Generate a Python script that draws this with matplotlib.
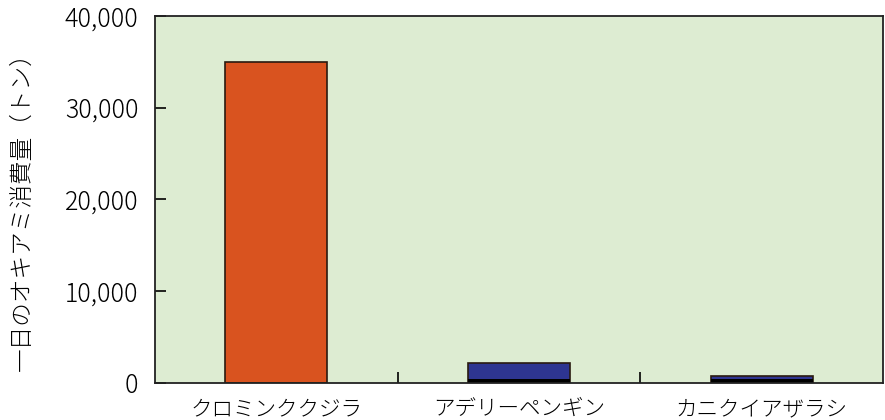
import matplotlib.pyplot as plt
from matplotlib.ticker import FuncFormatter

plt.rcParams['font.family'] = ['Noto Sans CJK JP', 'DejaVu Sans']

species = ['クロミンククジラ', 'アデリーペンギン', 'カニクイアザラシ']
krill_per_day = [35000, 2200, 750]
bar_colors = ['#d9531f', '#2e3591', '#2e3591']

fig = plt.figure(figsize=(8.85, 4.2), dpi=100)
ax = fig.add_axes([155 / 885, 37 / 420, 728 / 885, 367 / 420])
ax.set_facecolor('#ddecd2')

x = list(range(len(species)))
ax.bar(x, krill_per_day, width=0.42, color=bar_colors, edgecolor='#2a1a10', linewidth=1.2)
# dark strip along the bottom of the small bars
ax.bar(x[1:], [450, 450], width=0.42, color='black', linewidth=0)

ax.set_xlim(-0.5, 2.5)
ax.set_ylim(0, 40000)
ax.set_yticks([0, 10000, 20000, 30000, 40000])
ax.yaxis.set_major_formatter(FuncFormatter(lambda v, p: f'{int(v):,}'))
ax.set_xticks([0.5, 1.5])
ax.set_xticklabels([])
ax.set_xticks(x, minor=True)
ax.set_xticklabels(species, minor=True, fontsize=15.5, fontweight='light')
ax.tick_params(axis='x', which='minor', length=0, pad=11)
ax.tick_params(axis='x', which='major', direction='in', length=8, width=1.2)
ax.tick_params(axis='y', direction='in', length=8, width=1.2, pad=12, labelsize=18)
for lbl in ax.get_yticklabels():
    lbl.set_fontweight('light')

for s in ax.spines.values():
    s.set_linewidth(1.3)
    s.set_color('#222222')

fig.text(22 / 885, 0.51, '一日のオキアミ消費量（トン）', rotation=90, va='center', ha='center',
         fontsize=17, fontweight='light')

fig.savefig('out.png', dpi=100)
